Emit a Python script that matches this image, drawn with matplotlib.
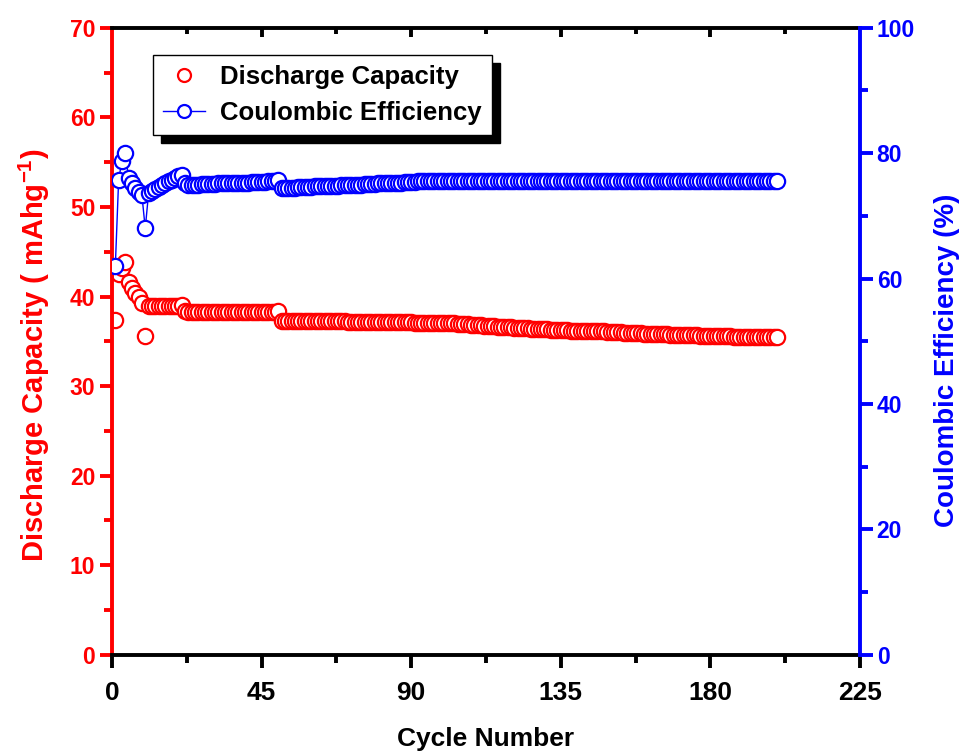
import matplotlib
matplotlib.use("Agg")
import matplotlib.pyplot as plt
import matplotlib.lines as mlines
from matplotlib import font_manager
from matplotlib.ticker import MultipleLocator

plt.rcParams['font.family'] = ['Liberation Sans', 'DejaVu Sans']
plt.rcParams['font.weight'] = 'bold'
plt.rcParams['mathtext.fontset'] = 'custom'
plt.rcParams['mathtext.rm'] = 'Liberation Sans:bold'
plt.rcParams['mathtext.bf'] = 'Liberation Sans:bold'
plt.rcParams['mathtext.it'] = 'Liberation Sans:bold'

names = {f.name for f in font_manager.fontManager.ttflist}
NARROW = 'Liberation Sans Narrow' if 'Liberation Sans Narrow' in names else 'Liberation Sans'

cycles = list(range(1, 201))

# discharge capacity (mAh/g), 10 cycles per row
capacity = [
    37.4, 42.5, 43.2, 43.8, 41.6, 41.0, 40.4, 39.9, 39.3, 35.6,
    38.9, 38.9, 38.9, 38.9, 38.9, 38.9, 38.9, 38.9, 38.9, 38.9,
    39.0, 38.4, 38.3, 38.3, 38.3, 38.3, 38.3, 38.3, 38.3, 38.3,
    38.3, 38.3, 38.3, 38.3, 38.3, 38.3, 38.3, 38.3, 38.3, 38.3,
    38.3, 38.3, 38.3, 38.3, 38.3, 38.3, 38.3, 38.3, 38.3, 38.4,
    37.3, 37.3, 37.3, 37.3, 37.3, 37.3, 37.3, 37.3, 37.3, 37.3,
    37.3, 37.3, 37.3, 37.3, 37.3, 37.3, 37.3, 37.3, 37.3, 37.3,
    37.2, 37.2, 37.2, 37.2, 37.2, 37.2, 37.2, 37.2, 37.2, 37.2,
    37.2, 37.2, 37.2, 37.2, 37.2, 37.2, 37.2, 37.2, 37.2, 37.2,
    37.1, 37.1, 37.1, 37.1, 37.1, 37.1, 37.1, 37.1, 37.1, 37.1,
    37.0, 37.0, 37.0, 36.9, 36.9, 36.9, 36.9, 36.8, 36.8, 36.8,
    36.8, 36.7, 36.7, 36.7, 36.7, 36.6, 36.6, 36.6, 36.6, 36.6,
    36.5, 36.5, 36.5, 36.5, 36.5, 36.4, 36.4, 36.4, 36.4, 36.4,
    36.4, 36.3, 36.3, 36.3, 36.3, 36.3, 36.3, 36.2, 36.2, 36.2,
    36.2, 36.2, 36.1, 36.1, 36.1, 36.1, 36.1, 36.1, 36.0, 36.0,
    36.0, 36.0, 36.0, 35.9, 35.9, 35.9, 35.9, 35.9, 35.9, 35.8,
    35.8, 35.8, 35.8, 35.8, 35.8, 35.8, 35.8, 35.7, 35.7, 35.7,
    35.7, 35.7, 35.7, 35.7, 35.7, 35.7, 35.6, 35.6, 35.6, 35.6,
    35.6, 35.6, 35.6, 35.6, 35.6, 35.6, 35.5, 35.5, 35.5, 35.5,
    35.5, 35.5, 35.5, 35.5, 35.5, 35.5, 35.5, 35.5, 35.5, 35.5,
]

# coulombic efficiency (%)
efficiency = [
    62.0, 75.8, 78.8, 80.0, 76.0, 75.3, 74.5, 73.8, 73.3, 68.0,
    73.6, 74.0, 74.3, 74.6, 74.9, 75.2, 75.5, 75.8, 76.1, 76.4,
    76.5, 75.2, 75.0, 75.0, 75.0, 75.0, 75.1, 75.1, 75.1, 75.1,
    75.1, 75.2, 75.2, 75.2, 75.2, 75.2, 75.3, 75.3, 75.3, 75.3,
    75.3, 75.4, 75.4, 75.4, 75.4, 75.4, 75.5, 75.5, 75.6, 75.7,
    74.5, 74.5, 74.5, 74.5, 74.5, 74.6, 74.6, 74.6, 74.6, 74.6,
    74.7, 74.7, 74.7, 74.7, 74.8, 74.8, 74.8, 74.8, 74.9, 74.9,
    74.9, 75.0, 75.0, 75.0, 75.0, 75.1, 75.1, 75.1, 75.1, 75.2,
    75.2, 75.2, 75.2, 75.3, 75.3, 75.3, 75.3, 75.4, 75.4, 75.4,
    75.4, 75.5, 75.5, 75.5, 75.5, 75.5, 75.6, 75.6, 75.6, 75.6,
    75.6, 75.6, 75.6, 75.6, 75.6, 75.6, 75.6, 75.6, 75.6, 75.6,
    75.6, 75.6, 75.6, 75.6, 75.6, 75.6, 75.6, 75.6, 75.6, 75.6,
    75.6, 75.6, 75.6, 75.6, 75.6, 75.6, 75.6, 75.6, 75.6, 75.6,
    75.6, 75.6, 75.6, 75.6, 75.6, 75.6, 75.6, 75.6, 75.6, 75.6,
    75.5, 75.5, 75.5, 75.5, 75.5, 75.5, 75.5, 75.5, 75.5, 75.5,
    75.5, 75.5, 75.5, 75.5, 75.5, 75.5, 75.5, 75.5, 75.5, 75.5,
    75.5, 75.5, 75.5, 75.5, 75.5, 75.5, 75.5, 75.5, 75.5, 75.5,
    75.5, 75.5, 75.5, 75.5, 75.5, 75.5, 75.5, 75.5, 75.5, 75.5,
    75.5, 75.5, 75.5, 75.5, 75.5, 75.5, 75.5, 75.5, 75.5, 75.5,
    75.5, 75.5, 75.5, 75.5, 75.5, 75.5, 75.5, 75.5, 75.5, 75.5,
]

RED = '#ff0000'
BLUE = '#0000ff'

fig = plt.figure(figsize=(9.68, 7.51), dpi=100)
ax1 = fig.add_axes([0.1157, 0.128, 0.7727, 0.835])
ax2 = ax1.twinx()

l1, = ax1.plot(cycles, capacity, linestyle='none', marker='o', ms=11,
               mfc='white', mec=RED, mew=1.6, label='Discharge Capacity')
l2, = ax2.plot(cycles, efficiency, linestyle='-', lw=1.0, color=BLUE,
               marker='o', ms=11, mfc='white', mec=BLUE, mew=1.6,
               label='Coulombic Efficiency')

ax1.set_xlim(0, 225)
ax1.set_ylim(0, 70)
ax2.set_ylim(0, 100)

major_x = MultipleLocator(45)
minor_x = MultipleLocator(22.5)
ax1.xaxis.set_major_locator(major_x)
ax1.xaxis.set_minor_locator(minor_x)
ax1.yaxis.set_major_locator(MultipleLocator(10))
ax1.yaxis.set_minor_locator(MultipleLocator(5))
ax2.yaxis.set_major_locator(MultipleLocator(20))
ax2.yaxis.set_minor_locator(MultipleLocator(10))

# spines
for a in (ax1, ax2):
    for s in a.spines.values():
        s.set_linewidth(2.8)
ax1.spines['left'].set_color(RED)
ax1.spines['right'].set_visible(False)
ax1.spines['top'].set_color('black')
ax2.spines['right'].set_color(BLUE)
for s in ('left', 'top', 'bottom'):
    ax2.spines[s].set_visible(False)

# inward ticks along the top edge, drawn on the twin so they sit above everything
xt_major = [float(v) for v in major_x.tick_values(0, 225) if 0 < v < 225]
xt_minor = [float(v) for v in minor_x.tick_values(0, 225)
            if 0 < v < 225 and v not in xt_major]
ax2.plot(xt_major, [1.0] * len(xt_major), transform=ax2.get_xaxis_transform(),
         ls='none', marker=mlines.TICKDOWN, ms=6.5, mew=2.8, mec='black',
         color='black', clip_on=False, zorder=10)
ax2.plot(xt_minor, [1.0] * len(xt_minor), transform=ax2.get_xaxis_transform(),
         ls='none', marker=mlines.TICKDOWN, ms=4.5, mew=2.8, mec='black',
         color='black', clip_on=False, zorder=10)

ax1.tick_params(axis='x', which='major', direction='out', length=9, width=2.8,
                pad=10, colors='black', top=False)
ax1.tick_params(axis='x', which='minor', direction='out', length=6, width=2.8,
                top=False)
for lab in ax1.get_xticklabels():
    lab.set_fontfamily([NARROW, 'Liberation Sans'])
    lab.set_fontsize(19)
    lab.set_fontweight('bold')

ax1.tick_params(axis='y', which='major', direction='out', length=9, width=2.8,
                color=RED, labelcolor=RED, labelsize=16.5, pad=3)
ax1.tick_params(axis='y', which='minor', direction='out', length=6, width=2.8,
                color=RED)
ax2.tick_params(axis='y', which='major', direction='out', length=9, width=2.8,
                color=BLUE, labelcolor=BLUE, labelsize=16.5, pad=3)
ax2.tick_params(axis='y', which='minor', direction='out', length=6, width=2.8,
                color=BLUE)

ax1.set_xlabel('Cycle Number', fontsize=19, fontweight='bold', labelpad=16)
ax1.set_ylabel(r'Discharge Capacity ( mAhg$^{\mathbf{-1}}$)', fontsize=21,
               fontweight='bold', color=RED, labelpad=13)
ax2.set_ylabel('Coulombic Efficiency (%)', fontsize=20, fontweight='bold',
               color=BLUE, labelpad=14)
ax1.yaxis.label.set_y(0.477)
ax2.yaxis.label.set_y(0.47)

leg = ax2.legend([l1, l2], ['Discharge Capacity', 'Coulombic Efficiency'],
                 loc='upper left', bbox_to_anchor=(0.055, 0.957),
                 borderaxespad=0, fancybox=False, numpoints=1,
                 prop={'size': 18.5, 'weight': 'bold'}, handlelength=1.6,
                 handletextpad=0.6, borderpad=0.4, labelspacing=0.45,
                 markerscale=0.85,
                 shadow={'ox': 6, 'oy': -6, 'facecolor': 'black',
                         'edgecolor': 'black', 'alpha': 1})
leg.get_frame().set_edgecolor('black')
leg.get_frame().set_linewidth(1.0)

fig.savefig('out.png', dpi=100)
